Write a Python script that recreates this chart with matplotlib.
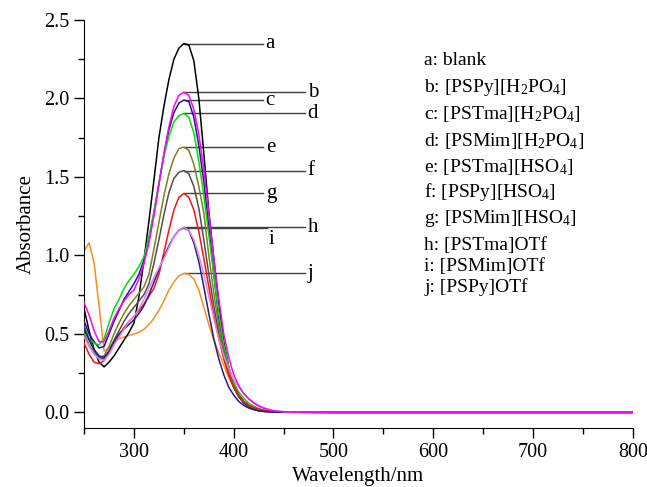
import numpy as np
import matplotlib
matplotlib.use("Agg")
import matplotlib.pyplot as plt
from matplotlib.ticker import MultipleLocator

plt.rcParams["font.family"] = "Liberation Serif"
plt.rcParams["mathtext.fontset"] = "custom"
plt.rcParams["mathtext.rm"] = "Liberation Serif"
plt.rcParams["mathtext.it"] = "Liberation Serif:italic"

# wavelength grid (nm): every 5 nm up to 450, then the flat tail
wl = list(range(250, 455, 5)) + [460, 500, 600, 700, 800]
tail = [0.001, 0.0, 0.0, 0.0, 0.0]

a = [0.66, 0.52, 0.40, 0.32, 0.29, 0.32, 0.36, 0.41, 0.46, 0.51, 0.57,
     0.74, 0.97, 1.22, 1.48, 1.75, 1.95, 2.12, 2.25, 2.32, 2.35,
     2.34, 2.24, 2.00, 1.65, 1.28, 0.98, 0.70, 0.45, 0.29, 0.18,
     0.11, 0.07, 0.045, 0.03, 0.02, 0.012, 0.008, 0.005, 0.003, 0.002]
b = [0.70, 0.62, 0.52, 0.45, 0.45, 0.52, 0.60, 0.66, 0.71, 0.75, 0.78,
     0.85, 0.95, 1.08, 1.25, 1.45, 1.65, 1.82, 1.95, 2.02, 2.04,
     2.02, 1.93, 1.77, 1.55, 1.27, 0.98, 0.72, 0.50, 0.35, 0.24,
     0.17, 0.12, 0.085, 0.06, 0.04, 0.027, 0.017, 0.01, 0.006, 0.004]
c = [0.58, 0.50, 0.45, 0.41, 0.42, 0.50, 0.58, 0.65, 0.72, 0.77, 0.82,
     0.88, 0.97, 1.10, 1.27, 1.46, 1.64, 1.80, 1.91, 1.97, 1.99,
     1.98, 1.88, 1.70, 1.47, 1.18, 0.88, 0.60, 0.40, 0.26, 0.16,
     0.10, 0.06, 0.035, 0.02, 0.01, 0.006, 0.004, 0.002, 0.001, 0.001]
d = [0.52, 0.47, 0.44, 0.43, 0.47, 0.57, 0.66, 0.72, 0.79, 0.84, 0.88,
     0.93, 0.99, 1.12, 1.28, 1.46, 1.63, 1.76, 1.85, 1.89, 1.905,
     1.88, 1.78, 1.60, 1.38, 1.13, 0.88, 0.63, 0.43, 0.29, 0.19,
     0.13, 0.09, 0.06, 0.04, 0.025, 0.015, 0.009, 0.005, 0.003, 0.002]
e = [0.50, 0.43, 0.38, 0.35, 0.36, 0.42, 0.50, 0.57, 0.63, 0.68, 0.72,
     0.76, 0.80, 0.88, 1.04, 1.21, 1.38, 1.52, 1.62, 1.68, 1.69,
     1.67, 1.58, 1.44, 1.27, 1.00, 0.76, 0.55, 0.38, 0.26, 0.17,
     0.11, 0.07, 0.045, 0.028, 0.018, 0.011, 0.007, 0.005, 0.003, 0.002]
f = [0.55, 0.47, 0.40, 0.35, 0.34, 0.39, 0.46, 0.52, 0.58, 0.63, 0.67,
     0.71, 0.75, 0.82, 0.95, 1.10, 1.26, 1.40, 1.49, 1.53, 1.54,
     1.52, 1.44, 1.30, 1.10, 0.88, 0.68, 0.50, 0.35, 0.24, 0.16,
     0.10, 0.065, 0.04, 0.025, 0.016, 0.01, 0.006, 0.004, 0.002, 0.001]
g = [0.44, 0.37, 0.32, 0.31, 0.33, 0.38, 0.44, 0.49, 0.54, 0.58, 0.61,
     0.65, 0.69, 0.74, 0.79, 0.88, 1.02, 1.16, 1.29, 1.37, 1.395,
     1.37, 1.29, 1.15, 0.98, 0.80, 0.62, 0.47, 0.34, 0.24, 0.16,
     0.11, 0.07, 0.045, 0.03, 0.02, 0.012, 0.008, 0.005, 0.003, 0.002]
h = [0.48, 0.42, 0.37, 0.34, 0.33, 0.37, 0.43, 0.48, 0.53, 0.58, 0.61,
     0.66, 0.72, 0.79, 0.86, 0.92, 0.98, 1.05, 1.12, 1.16, 1.18,
     1.16, 1.10, 1.00, 0.88, 0.74, 0.60, 0.47, 0.36, 0.28, 0.21,
     0.16, 0.12, 0.09, 0.065, 0.045, 0.03, 0.02, 0.012, 0.008, 0.005]
i = [0.53, 0.46, 0.40, 0.36, 0.35, 0.39, 0.45, 0.50, 0.53, 0.56, 0.59,
     0.63, 0.68, 0.75, 0.83, 0.91, 0.99, 1.06, 1.12, 1.16, 1.175,
     1.16, 1.08, 0.96, 0.80, 0.63, 0.47, 0.34, 0.24, 0.16, 0.11,
     0.07, 0.045, 0.028, 0.017, 0.01, 0.006, 0.004, 0.002, 0.001, 0.001]
j = [1.03, 1.08, 0.95, 0.68, 0.39, 0.41, 0.45, 0.47, 0.48, 0.49, 0.50,
     0.51, 0.53, 0.56, 0.60, 0.65, 0.71, 0.78, 0.83, 0.87, 0.885,
     0.88, 0.85, 0.78, 0.67, 0.56, 0.46, 0.38, 0.30, 0.22, 0.16,
     0.11, 0.07, 0.045, 0.03, 0.02, 0.013, 0.008, 0.005, 0.003, 0.002]

letters = ['a', 'b', 'c', 'd', 'e', 'f', 'g', 'h', 'i', 'j']
series = [a, b, c, d, e, f, g, h, i, j]
names = ['blank', '[PSPy][H$_2$PO$_4$]', '[PSTma][H$_2$PO$_4$]',
         '[PSMim][H$_2$PO$_4$]', '[PSTma][HSO$_4$]', '[PSPy][HSO$_4$]',
         '[PSMim][HSO$_4$]', '[PSTma]OTf', '[PSMim]OTf', '[PSPy]OTf']
colors = ['black', '#ff00ff', '#1a1a8c', '#00e000', '#808020', '#505050',
          '#ff1010', '#e080f0', '#202080', '#ff8c1a']
zorders = [3, 12, 4, 5, 6, 7, 8, 10, 9, 2]

# leader line end (nm) and label placement
lead_end = [429, 471, 429, 471, 429, 471, 429, 471, 433, 471]
legend_y = [2.24, 2.07, 1.90, 1.73, 1.565, 1.405, 1.235, 1.06, 0.93, 0.80]

fig = plt.figure(figsize=(6.47, 4.87), dpi=100)
ax = fig.add_axes([0.130, 0.121, 0.848, 0.838])

wl_arr = np.array(wl[:41])
for k in range(len(series)):
    y = series[k] + tail
    ax.plot(wl, y, color=colors[k], lw=1.1, zorder=zorders[k])
    # main band peak (above 300 nm)
    band = np.where(wl_arr >= 300, np.array(series[k]), -1)
    pk = int(np.argmax(band))
    xp, yp = wl[pk], series[k][pk]
    ax.plot([xp, lead_end[k]], [yp, yp], color='#404040', lw=1.0, zorder=1)
    if letters[k] == 'i':
        ax.text(lead_end[k] + 2, yp - 0.075, 'i', fontsize=15,
                ha='left', va='center')
    else:
        ax.text(lead_end[k] + 3, yp, letters[k], fontsize=15,
                ha='left', va='center')
    ax.text(591, legend_y[k], letters[k] + ': ' + names[k], fontsize=14,
            ha='left', va='center')

ax.set_xlim(250, 800)
ax.set_ylim(-0.1, 2.5)
ax.xaxis.set_major_locator(MultipleLocator(100))
ax.xaxis.set_minor_locator(MultipleLocator(50))
ax.yaxis.set_major_locator(MultipleLocator(0.5))
ax.yaxis.set_minor_locator(MultipleLocator(0.25))
ax.yaxis.set_major_formatter(matplotlib.ticker.FormatStrFormatter('%.1f'))
ax.tick_params(which='major', direction='out', length=7, width=1,
               labelsize=14.5)
ax.tick_params(which='minor', direction='out', length=4, width=1)
for s in ['top', 'right']:
    ax.spines[s].set_visible(False)
ax.set_xlabel('Wavelength/nm', fontsize=15, labelpad=4)
ax.set_ylabel('Absorbance', fontsize=15, labelpad=6)

fig.savefig('out.png', dpi=100)
